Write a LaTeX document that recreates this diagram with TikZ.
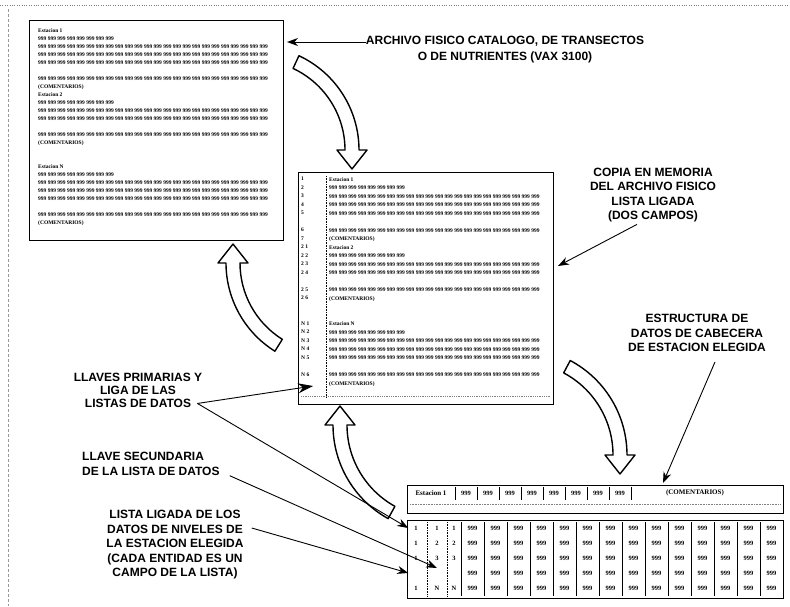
\documentclass[tikz,border=0pt]{standalone}
\usepackage{fontspec}
\setmainfont{Liberation Serif}
\newfontfamily\labelfont{Liberation Sans}
\usepackage{tikz}
\usetikzlibrary{arrows.meta,calc}
\tikzstyle{Label}=[font=\labelfont\bfseries\fontsize{12}{14.5}\selectfont, align=center, inner sep=0pt]
\tikzstyle{Listing}=[font=\bfseries\fontsize{5.5}{8}\selectfont, align=left, anchor=north west, inner sep=0pt]
\tikzstyle{Frame}=[draw=black, line width=1.3pt, anchor=north west, inner sep=0pt]
\tikzstyle{Pointer}=[line width=0.9pt, -{Stealth[length=11pt, width=8pt]}]
\tikzstyle{Hollow}=[draw=black, line width=1.4pt, fill=white, line join=round]
\tikzstyle{Cell}=[font=\bfseries\fontsize{6.5}{7}\selectfont, inner sep=0pt]
\newcommand{\nines}[1]{\foreach \k in {1,...,#1}{999 }}
\newcommand{\bigarrow}[5]{%
  \pgfmathsetmacro\arrOut{#2+7}\pgfmathsetmacro\arrIn{#2-7}%
  \pgfmathsetmacro\headOut{#2+15}\pgfmathsetmacro\headIn{#2-15}%
  \pgfmathsetmacro\tipDir{#4+#5}%
  \draw[Hollow] ($(#1)+(#3:\arrOut)$) arc[start angle=#3, end angle=#4, radius=\arrOut]
    -- ($(#1)+(#4:\headOut)$) -- ($(#1)+(#4:#2)+(\tipDir:19)$) -- ($(#1)+(#4:\headIn)$)
    -- ($(#1)+(#4:\arrIn)$) arc[start angle=#4, end angle=#3, radius=\arrIn] -- cycle;}

\begin{document}
\begin{tikzpicture}[x=1pt, y=-1pt]
\useasboundingbox (0,0) rectangle (790,606);
% scan frame
\draw[gray, dotted] (0,5) -- (790,5);
\draw[gray!80, densely dashed, line width=0.6pt] (8,9) -- (8,606);

% physical file
\node[Frame, minimum width=254pt, minimum height=220pt] (file) at (29,20) {};
\node[Listing] (filetext) at (38,28) {Estacion 1\\ \nines{8}\\ \nines{24}\\ \nines{24}\\ \nines{24}\\[8pt]
  \nines{24}\\ (COMENTARIOS)\\ Estacion 2\\ \nines{8}\\ \nines{24}\\ \nines{24}\\[8pt]
  \nines{24}\\ (COMENTARIOS)\\[16pt] Estacion N\\ \nines{8}\\ \nines{24}\\ \nines{24}\\ \nines{24}\\[8pt]
  \nines{24}\\ (COMENTARIOS)};

% copy in memory
\node[Frame, minimum width=255pt, minimum height=232pt] (memory) at (298,172) {};
\node[Listing, font=\bfseries\fontsize{5.5}{8.5}\selectfont] (memkeys) at (301,177) {1\\ 2\\ 3\\ 4\\ 5\\[8.5pt]
  6\\ 7\\ 2 1\\ 2 2\\ 2 3\\ 2 4\\[8.5pt] 2 5\\ 2 6\\[17pt] N 1\\ N 2\\ N 3\\ N 4\\ N 5\\[8.5pt] N 6};
\node[Listing, font=\bfseries\fontsize{5.5}{8.5}\selectfont] (memtext) at (329,177) {Estacion 1\\ \nines{8}\\ \nines{22}\\ \nines{22}\\ \nines{22}\\[8.5pt]
  \nines{22}\\ (COMENTARIOS)\\ Estacion 2\\ \nines{8}\\ \nines{22}\\ \nines{22}\\[8.5pt]
  \nines{22}\\ (COMENTARIOS)\\[17pt] Estacion N\\ \nines{8}\\ \nines{22}\\ \nines{22}\\ \nines{22}\\[8.5pt]
  \nines{22}\\ (COMENTARIOS)};
\draw[densely dotted, line width=0.6pt] (326,176) -- (326,398);
\draw[gray, densely dotted, line width=0.8pt] (301,396) -- (550,396);

% station header
\node[Frame, line width=1.1pt, minimum width=376pt, minimum height=28pt] (header) at (407,485) {};
\node[Cell, font=\bfseries\fontsize{7}{8}\selectfont] (station) at (431,493) {Estacion 1};
\foreach \i in {0,...,7}
  \node[Cell] (h\i) at (466+22*\i,493) {999};
\foreach \i in {0,...,8}
  \draw[line width=0.7pt] (455+22*\i,487) -- (455+22*\i,500);
\node[Cell, font=\bfseries\fontsize{7}{8}\selectfont] (comments) at (695,493) {(COMENTARIOS)};
\draw[gray, densely dotted, line width=0.6pt] (410,504) -- (780,504);

% levels list
\node[Frame, minimum width=376pt, minimum height=78pt] (levels) at (407,520) {};
\foreach \r/\a/\b/\c [count=\n] in {1/1/1/1, 2/1/2/2, 3/1/3/3, 4/{}/{}/{}, 5/1/N/N} {
  \node[Cell] (k\n a) at (416,513+15*\n) {\a};
  \node[Cell] (k\n b) at (437,513+15*\n) {\b};
  \node[Cell] (k\n c) at (454,513+15*\n) {\c};
  \foreach \j in {0,...,13}
    \node[Cell] (v\n-\j) at (472.5+23*\j,513+15*\n) {999};
}
\draw[densely dotted, line width=0.6pt] (427,522) -- (427,596);
\draw[densely dotted, line width=0.6pt] (447,522) -- (447,596);
\foreach \j in {0,...,13}
  \draw[line width=0.7pt] (461+23*\j,522) -- (461+23*\j,596);

% hollow arrows
\bigarrow{255,150}{97}{-65}{0}{90}
\bigarrow{330,263}{97}{122}{180}{90}
\bigarrow{440,425}{100}{119}{180}{90}
\bigarrow{520,455}{100}{-62}{0}{90}

% labels
\node[Label, font=\labelfont\bfseries\fontsize{12}{16}\selectfont] (archivo) at (505,50) {ARCHIVO FISICO CATALOGO, DE TRANSECTOS\\O DE NUTRIENTES (VAX 3100)};
\node[Label] (copia) at (653,195) {COPIA EN MEMORIA\\DEL ARCHIVO FISICO\\LISTA LIGADA\\(DOS CAMPOS)};
\node[Label] (estructura) at (697,333) {ESTRUCTURA DE\\DATOS DE CABECERA\\DE ESTACION ELEGIDA};
\node[Label, font=\labelfont\bfseries\fontsize{12}{13}\selectfont] (llaves) at (138,390) {LLAVES PRIMARIAS Y\\LIGA DE LAS\\LISTAS DE DATOS};
\node[Label, align=left, anchor=west] (secundaria) at (82,464) {LLAVE SECUNDARIA\\DE LA LISTA DE DATOS};
\node[Label] (ligada) at (175,545) {LISTA LIGADA DE LOS\\DATOS DE NIVELES DE\\LA ESTACION ELEGIDA\\(CADA ENTIDAD ES UN\\CAMPO DE LA LISTA)};

% pointers
\coordinate (filetip) at (287,42);
\coordinate (memtip) at (558,266);
\coordinate (flagtip) at (313,386);
\coordinate (headtip) at (663,483);
\coordinate (gaptip) at (437,568);
\draw[Pointer] ([yshift=8pt]archivo.west) -- (filetip);
\draw[Pointer] ([xshift=-16pt,yshift=-2pt]copia.south) -- (memtip);
\draw[Pointer] ([xshift=18pt,yshift=-10pt]estructura.south) -- (headtip);
\draw[line width=0.9pt, -{Stealth[length=15pt, width=10pt]}] ([xshift=-5pt,yshift=4pt]llaves.south east) -- (flagtip);
\draw[Pointer] ([xshift=-5pt,yshift=4pt]llaves.south east) -- ([xshift=-6pt]k1a.west);
\draw[Pointer] ([xshift=10pt]secundaria.south east) -- (gaptip);
\draw[Pointer] ([xshift=8pt,yshift=17pt]ligada.east) -- ([xshift=-7pt]k4a.west);
\end{tikzpicture}
\end{document}
